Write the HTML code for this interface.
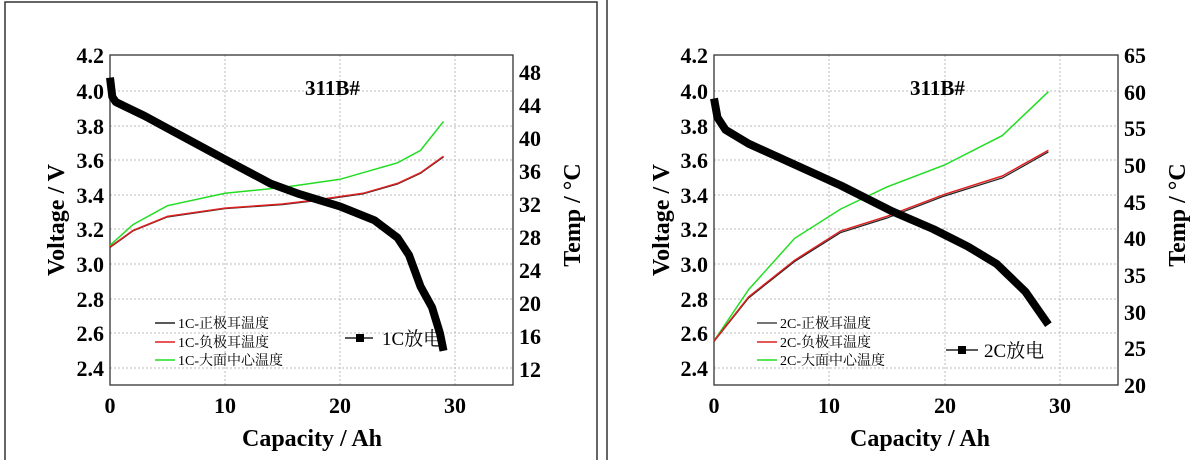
<!DOCTYPE html><html><head><meta charset="utf-8"><style>body{margin:0;background:#fff}svg{display:block}
text{font-family:"Liberation Serif","Noto Serif CJK SC",serif;font-weight:bold;fill:#000}
.t{font-size:22px}.lg{font-size:14px;font-weight:normal}.g{stroke:#bbb;stroke-width:1;stroke-dasharray:2,2}
</style></head><body>
<svg width="1200" height="460" xmlns="http://www.w3.org/2000/svg">
<rect x="5" y="2" width="592" height="470" fill="none" stroke="#333" stroke-width="1.5"/>
<rect x="607" y="-2" width="600" height="470" fill="none" stroke="#333" stroke-width="1.5"/>
<!-- LEFT -->
<g>
<g class="g"><line x1="110" x2="513" y1="91" y2="91"/><line x1="110" x2="513" y1="126" y2="126"/><line x1="110" x2="513" y1="160" y2="160"/><line x1="110" x2="513" y1="195" y2="195"/><line x1="110" x2="513" y1="229" y2="229"/><line x1="110" x2="513" y1="264" y2="264"/><line x1="110" x2="513" y1="299" y2="299"/><line x1="110" x2="513" y1="333" y2="333"/><line x1="110" x2="513" y1="368" y2="368"/>
<line x1="225" x2="225" y1="55" y2="385"/><line x1="340" x2="340" y1="55" y2="385"/><line x1="455" x2="455" y1="55" y2="385"/></g>
<rect x="110" y="55" width="403" height="330" fill="none" stroke="#333" stroke-width="1.3"/>
<g text-anchor="end" class="t">
<text x="104" y="63">4.2</text><text x="104" y="99">4.0</text><text x="104" y="134">3.8</text><text x="104" y="168">3.6</text><text x="104" y="203">3.4</text><text x="104" y="237">3.2</text><text x="104" y="272">3.0</text><text x="104" y="307">2.8</text><text x="104" y="341">2.6</text><text x="104" y="376">2.4</text></g>
<g text-anchor="start" class="t"><text x="519" y="80">48</text><text x="519" y="113">44</text><text x="519" y="146">40</text><text x="519" y="179">36</text><text x="519" y="212">32</text><text x="519" y="245">28</text><text x="519" y="278">24</text><text x="519" y="311">20</text><text x="519" y="344">16</text><text x="519" y="377">12</text></g>
<g text-anchor="middle" class="t"><text x="110" y="413">0</text><text x="225" y="413">10</text><text x="340" y="413">20</text><text x="455" y="413">30</text></g>
<text x="312" y="446" text-anchor="middle" font-size="24">Capacity / Ah</text>
<text transform="translate(64,220) rotate(-90)" text-anchor="middle" font-size="24">Voltage / V</text>
<text transform="translate(580,215) rotate(-90)" text-anchor="middle" font-size="24">Temp / °C</text>
<text x="305" y="95" font-size="21">311B#</text>
<polyline fill="none" stroke="#22dd22" stroke-width="1.5" points="110,245.3 133,224.6 167.5,205.7 225,193.3 282.5,187.5 340,179.3 397.5,162.8 420.5,150.4 443.5,121.5"/>
<polyline fill="none" stroke="#222" stroke-width="1.2" points="110,247.5 133,231 167.5,217 225,208.7 282.5,204.6 317,200.5 363,193.9 397.5,184 420.5,173.3 443.5,157"/>
<polyline fill="none" stroke="#dd2020" stroke-width="1.5" points="110,246.9 133,230.4 167.5,216.4 225,208.1 282.5,204 317,199.9 363,193.3 397.5,183.4 420.5,172.7 443.5,156.2"/>
<polyline fill="none" stroke="#000" stroke-width="8" stroke-linejoin="round" points="110,77.6 112.3,96.8 115.8,102 144.5,115.9 225,159.4 271,183.8 299.8,194.2 340,206.4 374.5,220.3 397.5,237.7 409,255.1 420.5,286.4 432,307.3 440,333.4 443.5,350.8"/>
<line x1="155" x2="175" y1="323" y2="323" stroke="#222" stroke-width="1.5"/><text x="178" y="328" class="lg">1C-正极耳温度</text>
<line x1="155" x2="175" y1="342" y2="342" stroke="#dd2020" stroke-width="1.5"/><text x="178" y="347" class="lg">1C-负极耳温度</text>
<line x1="155" x2="175" y1="360" y2="360" stroke="#22dd22" stroke-width="1.5"/><text x="178" y="365" class="lg">1C-大面中心温度</text>
<line x1="345" x2="373" y1="338" y2="338" stroke="#222" stroke-width="1.5"/><rect x="356" y="334" width="8" height="8" fill="#000"/>
<text x="382" y="345" font-size="19" style="font-weight:normal">1C放电</text>
</g>
<!-- RIGHT -->
<g>
<g class="g"><line x1="714" x2="1118" y1="91" y2="91"/><line x1="714" x2="1118" y1="126" y2="126"/><line x1="714" x2="1118" y1="160" y2="160"/><line x1="714" x2="1118" y1="195" y2="195"/><line x1="714" x2="1118" y1="229" y2="229"/><line x1="714" x2="1118" y1="264" y2="264"/><line x1="714" x2="1118" y1="299" y2="299"/><line x1="714" x2="1118" y1="333" y2="333"/><line x1="714" x2="1118" y1="368" y2="368"/>
<line x1="829" x2="829" y1="55" y2="385"/><line x1="945" x2="945" y1="55" y2="385"/><line x1="1060" x2="1060" y1="55" y2="385"/></g>
<rect x="714" y="55" width="404" height="330" fill="none" stroke="#333" stroke-width="1.3"/>
<g text-anchor="end" class="t">
<text x="708" y="63">4.2</text><text x="708" y="99">4.0</text><text x="708" y="134">3.8</text><text x="708" y="168">3.6</text><text x="708" y="203">3.4</text><text x="708" y="237">3.2</text><text x="708" y="272">3.0</text><text x="708" y="307">2.8</text><text x="708" y="341">2.6</text><text x="708" y="376">2.4</text></g>
<g text-anchor="start" class="t"><text x="1124" y="63">65</text><text x="1124" y="100">60</text><text x="1124" y="136">55</text><text x="1124" y="173">50</text><text x="1124" y="210">45</text><text x="1124" y="246">40</text><text x="1124" y="283">35</text><text x="1124" y="320">30</text><text x="1124" y="356">25</text><text x="1124" y="393">20</text></g>
<g text-anchor="middle" class="t"><text x="714" y="413">0</text><text x="829" y="413">10</text><text x="945" y="413">20</text><text x="1060" y="413">30</text></g>
<text x="920" y="446" text-anchor="middle" font-size="24">Capacity / Ah</text>
<text transform="translate(669,220) rotate(-90)" text-anchor="middle" font-size="24">Voltage / V</text>
<text transform="translate(1185,215) rotate(-90)" text-anchor="middle" font-size="24">Temp / °C</text>
<text x="910" y="95" font-size="21">311B#</text>
<polyline fill="none" stroke="#22dd22" stroke-width="1.5" points="714,340.9 748.6,289.6 794.7,238.3 840.8,209 887,187 944.6,165 1002.3,135.6 1048.4,91.7"/>
<polyline fill="none" stroke="#222" stroke-width="1.2" points="714,341.5 748.6,298 794.7,261.5 840.8,232.5 887,218 944.6,196 1002.3,178 1048.4,152"/>
<polyline fill="none" stroke="#dd2020" stroke-width="1.5" points="714,340.9 748.6,296.9 794.7,260.2 840.8,230.9 887,216.3 944.6,194.3 1002.3,176 1048.4,150.3"/>
<polyline fill="none" stroke="#000" stroke-width="8" stroke-linejoin="round" points="714,98.5 717.5,117.6 725.5,129.8 748.6,143.7 783.2,159.4 840.8,185.5 892.7,211.6 933.1,229 967.7,246.4 996.5,263.8 1025.3,291.6 1048.4,324.7"/>
<line x1="757" x2="777" y1="323" y2="323" stroke="#222" stroke-width="1.2"/><text x="780" y="328" class="lg">2C-正极耳温度</text>
<line x1="757" x2="777" y1="342" y2="342" stroke="#dd2020" stroke-width="1.5"/><text x="780" y="347" class="lg">2C-负极耳温度</text>
<line x1="757" x2="777" y1="360" y2="360" stroke="#22dd22" stroke-width="1.5"/><text x="780" y="365" class="lg">2C-大面中心温度</text>
<line x1="946" x2="978" y1="350" y2="350" stroke="#222" stroke-width="1.5"/><rect x="958" y="346" width="8" height="8" fill="#000"/>
<text x="984" y="357" font-size="19" style="font-weight:normal">2C放电</text>
</g>
</svg></body></html>
